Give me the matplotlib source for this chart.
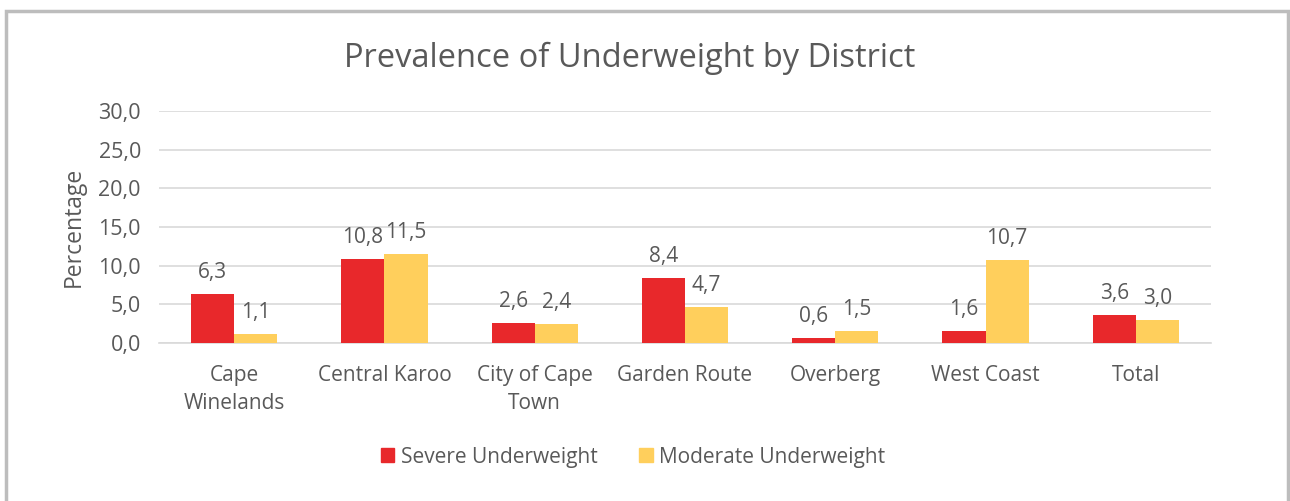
import matplotlib
matplotlib.use("Agg")
import matplotlib.pyplot as plt
import numpy as np
from matplotlib.patches import Rectangle

districts = ["Cape\nWinelands", "Central Karoo", "City of Cape\nTown", "Garden Route",
             "Overberg", "West Coast", "Total"]
severe = [6.3, 10.8, 2.6, 8.4, 0.6, 1.6, 3.6]
moderate = [1.1, 11.5, 2.4, 4.7, 1.5, 10.7, 3.0]
yticks = [0, 5, 10, 15, 20, 25, 30]

RED = "#E8282B"
YELLOW = "#FFCF5C"
TEXT = "#595959"
GRID = "#D9D9D9"

plt.rcParams["font.family"] = ["Open Sans", "DejaVu Sans"]

fig = plt.figure(figsize=(12.9, 5.01), dpi=100)
fig.patch.set_facecolor("white")
fig.add_artist(Rectangle((6 / 1290, -0.05), (1288 - 6) / 1290, 1.05 - 11 / 501,
                         transform=fig.transFigure, fill=False,
                         edgecolor="#BDBDBD", linewidth=2.5))

ax = fig.add_axes([159 / 1290, 1 - 343 / 501, (1211 - 159) / 1290, (343 - 111) / 501])
x = np.arange(len(districts))
w = 0.287
b1 = ax.bar(x - w / 2, severe, w, color=RED, zorder=3)
b2 = ax.bar(x + w / 2, moderate, w, color=YELLOW, zorder=3)

for bars, vals in ((b1, severe), (b2, moderate)):
    for rect, v in zip(bars, vals):
        ax.annotate(f"{v:.1f}".replace(".", ","),
                    (rect.get_x() + rect.get_width() / 2, v),
                    xytext=(0, 8), textcoords="offset points",
                    ha="center", va="bottom", fontsize=15, color=TEXT)

ax.set_xlim(-0.5, len(districts) - 0.5)
ax.set_ylim(0, 30)
ax.set_yticks(yticks)
ax.set_yticklabels([f"{t:.1f}".replace(".", ",") for t in yticks], fontsize=15.5, color=TEXT)
ax.set_xticks(x)
ax.set_xticklabels(districts, fontsize=15, color=TEXT, linespacing=1.4)
ax.tick_params(axis="both", length=0)
ax.tick_params(axis="y", pad=13)
ax.tick_params(axis="x", pad=16)
ax.yaxis.grid(True, color=GRID, linewidth=1.2, zorder=0)
ax.set_axisbelow(True)
for s in ["top", "right", "left"]:
    ax.spines[s].set_visible(False)
ax.spines["bottom"].set_color(GRID)
ax.spines["bottom"].set_linewidth(1.2)

ax.set_ylabel("Percentage", fontsize=16.5, color=TEXT, labelpad=9)

fig.text(630 / 1290, 1 - 58 / 501, "Prevalence of Underweight by District",
         ha="center", va="center", fontsize=23.5, color=TEXT)

handles = [Rectangle((0, 0), 1, 1, color=RED), Rectangle((0, 0), 1, 1, color=YELLOW)]
fig.legend(handles, ["Severe Underweight", "Moderate Underweight"],
           loc="center", bbox_to_anchor=(633 / 1290, 1 - 457 / 501), ncol=2,
           frameon=False, fontsize=15, labelcolor=TEXT,
           handlelength=0.65, handleheight=0.65, handletextpad=0.3, columnspacing=2.0)

fig.savefig("out.png", dpi=100, facecolor="white")
